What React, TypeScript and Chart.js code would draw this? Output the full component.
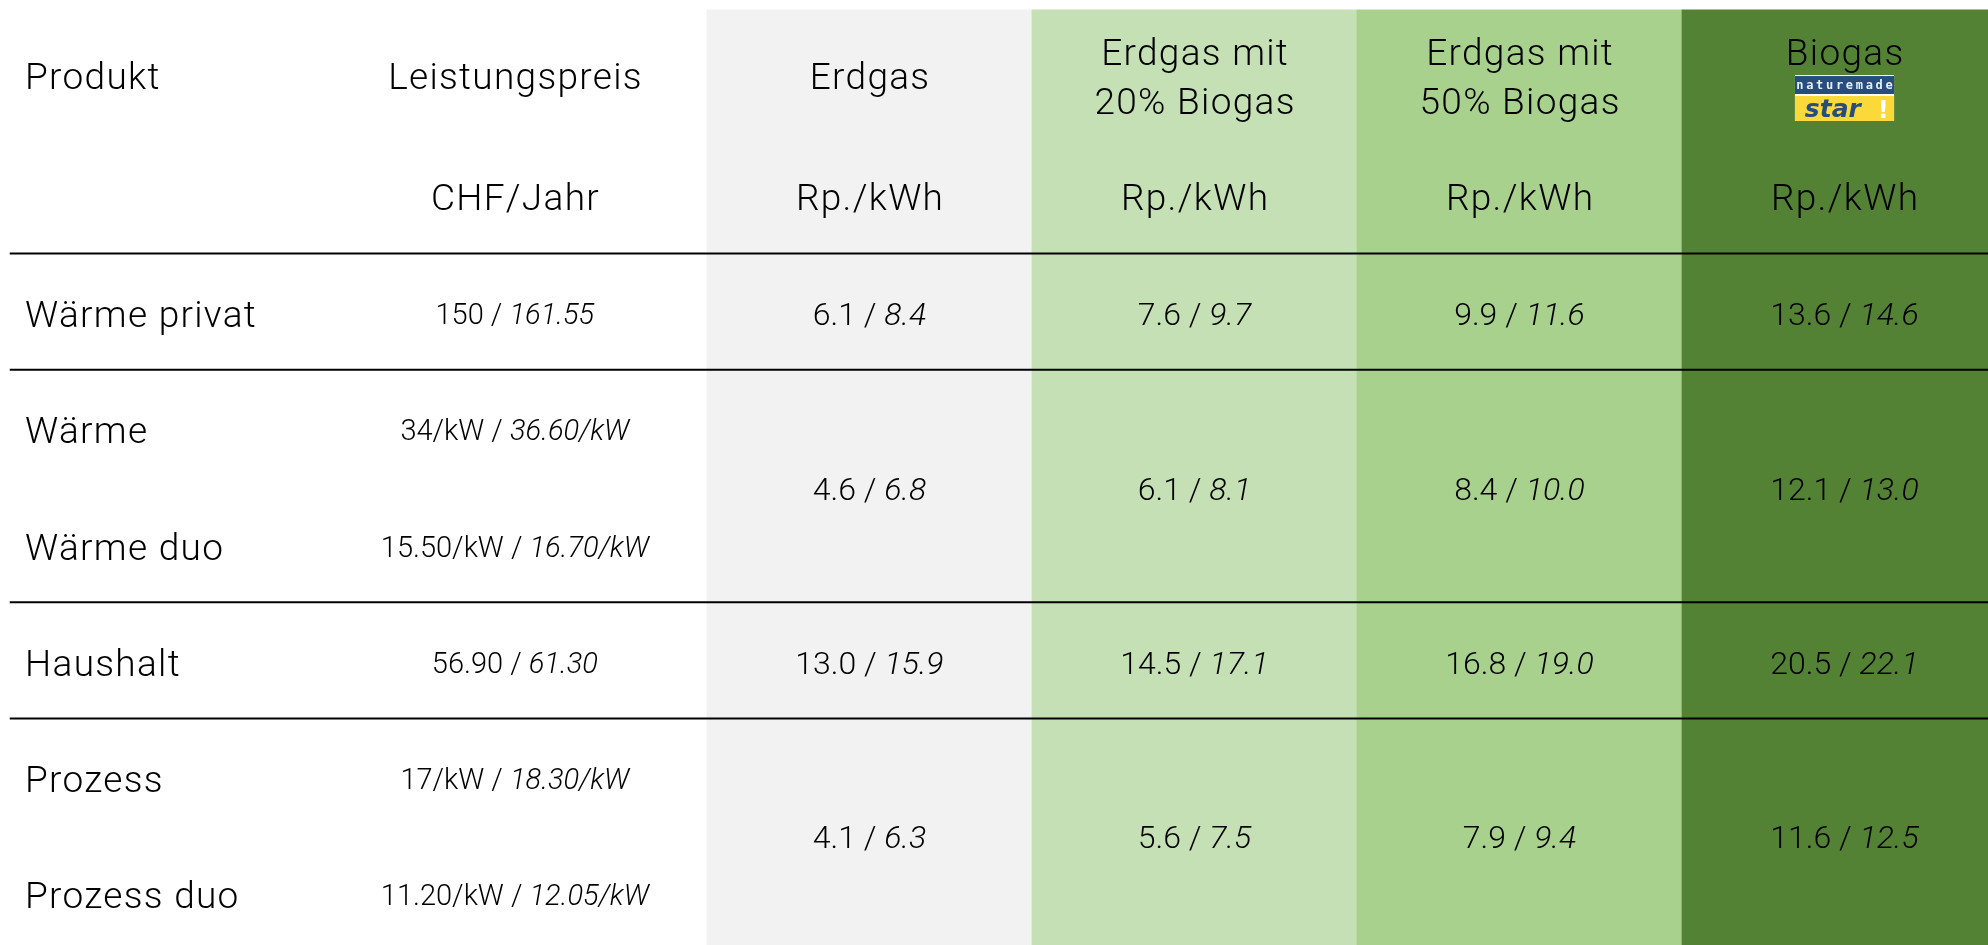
import React, { useEffect, useRef } from "react";
import { Chart, registerables } from "chart.js";
Chart.register(...registerables);

// ---------- data ----------
const headerProduct = "Produkt";
const headerFee = "Leistungspreis";
const feeUnit = "CHF/Jahr";
const gasNames: string[][] = [["Erdgas"], ["Erdgas mit", "20% Biogas"], ["Erdgas mit", "50% Biogas"], ["Biogas"]];
const gasUnit = "Rp./kWh";
const products = ["Wärme privat", "Wärme", "Wärme duo", "Haushalt", "Prozess", "Prozess duo"];
const feeBase = ["150", "34/kW", "15.50/kW", "56.90", "17/kW", "11.20/kW"];
const feeInclVat = ["161.55", "36.60/kW", "16.70/kW", "61.30", "18.30/kW", "12.05/kW"];
// product groups sharing one energy price
const groupFirstRow = [0, 1, 3, 4];
const groupRowCount = [1, 2, 1, 2];
const erdgasBase = [6.1, 4.6, 13.0, 4.1];
const erdgasIncl = [8.4, 6.8, 15.9, 6.3];
const bio20Base = [7.6, 6.1, 14.5, 5.6];
const bio20Incl = [9.7, 8.1, 17.1, 7.5];
const bio50Base = [9.9, 8.4, 16.8, 7.9];
const bio50Incl = [11.6, 10.0, 19.0, 9.4];
const biogasBase = [13.6, 12.1, 20.5, 11.6];
const biogasIncl = [14.6, 13.0, 22.1, 12.5];
const logoTop = "naturemade";
const logoBottom = "star";

// ---------- layout (x in column units, y in row units) ----------
const X_MIN = -0.175;
const X_MAX = 5.9415;
const Y_MIN = -2.1806;
const Y_MAX = 5.9484;
const TABLE_TOP = -2.095;
const TABLE_BOTTOM = 6.2;
const RULE_START = -0.145;
const LABEL_X = -0.098;
const FEE_X = 1.409;
const FIRST_PRICE_COL = 2;
const TEXT_DY = 0.02;
const HEADER_ONE_LINE_Y = -1.525;
const HEADER_TWO_LINE_Y = [-1.732, -1.313];
const UNIT_Y = -0.484;
const LOGO = { top: -1.535, mid: -1.372, mid2: -1.355, bottom: -1.14, width: 0.305 };
const colColors = ["#f2f2f2", "#c5e0b4", "#a9d18e", "#548235"];
const HEADER_FONT = 37;
const HEADER_SPACING = 1.3;
const FEE_FONT = 29;
const PRICE_FONT = 32;
const FAMILY = "Roboto, 'Liberation Sans', sans-serif";

const priceBase = [erdgasBase, bio20Base, bio50Base, biogasBase];
const priceIncl = [erdgasIncl, bio20Incl, bio50Incl, biogasIncl];

function drawLabel(ctx: CanvasRenderingContext2D, text: string, x: number, cy: number, size: number, align: CanvasTextAlign = "center") {
  ctx.font = `300 ${size}px ${FAMILY}`;
  (ctx as any).letterSpacing = `${HEADER_SPACING}px`;
  ctx.textAlign = "left";
  ctx.textBaseline = "alphabetic";
  const w = ctx.measureText(text).width - HEADER_SPACING;
  const left = align === "center" ? x - w / 2 : x;
  ctx.fillText(text, left, cy + size * 0.355);
  (ctx as any).letterSpacing = "0px";
}

function drawPair(ctx: CanvasRenderingContext2D, base: string, incl: string, cx: number, cy: number, size: number) {
  const normal = `300 ${size}px ${FAMILY}`;
  const italic = `italic 300 ${size}px ${FAMILY}`;
  const a = base + " / ";
  (ctx as any).letterSpacing = "0px";
  ctx.font = normal;
  const wa = ctx.measureText(a).width;
  ctx.font = italic;
  const wb = ctx.measureText(incl).width;
  const left = cx - (wa + wb) / 2;
  const baseline = cy + size * 0.355;
  ctx.textAlign = "left";
  ctx.textBaseline = "alphabetic";
  ctx.font = normal;
  ctx.fillText(a, left, baseline);
  ctx.font = italic;
  ctx.fillText(incl, left + wa, baseline);
}

const tablePlugin = {
  id: "tableText",
  afterDatasetsDraw(chart: any) {
    const ctx: CanvasRenderingContext2D = chart.ctx;
    const xs = chart.scales.x;
    const ys = chart.scales.y;
    const px = (v: number) => xs.getPixelForValue(v);
    const py = (v: number) => ys.getPixelForValue(v);
    ctx.save();
    ctx.fillStyle = "#000";
    // header
    drawLabel(ctx, headerProduct, px(LABEL_X), py(HEADER_ONE_LINE_Y), HEADER_FONT, "left");
    drawLabel(ctx, headerFee, px(FEE_X), py(HEADER_ONE_LINE_Y), HEADER_FONT);
    drawLabel(ctx, feeUnit, px(FEE_X), py(UNIT_Y), HEADER_FONT);
    gasNames.forEach((lines, i) => {
      const cx = px(FIRST_PRICE_COL + i + 0.5);
      if (lines.length === 1 && i < gasNames.length - 1) {
        drawLabel(ctx, lines[0], cx, py(HEADER_ONE_LINE_Y), HEADER_FONT);
      } else {
        lines.forEach((l, j) => drawLabel(ctx, l, cx, py(HEADER_TWO_LINE_Y[j]), HEADER_FONT));
      }
      drawLabel(ctx, gasUnit, cx, py(UNIT_Y), HEADER_FONT);
    });
    // logo under Biogas
    {
      const cx = px(FIRST_PRICE_COL + gasNames.length - 0.5);
      const w = px(LOGO.width) - px(0);
      const l = cx - w / 2;
      const t = py(LOGO.top);
      const m = py(LOGO.mid);
      const m2 = py(LOGO.mid2);
      const b = py(LOGO.bottom);
      ctx.fillStyle = "#ffffff";
      ctx.fillRect(l, t, w, b - t);
      ctx.fillStyle = "#264d7d";
      ctx.fillRect(l, t + 1, w, m - t - 1);
      ctx.fillStyle = "#fbd93a";
      ctx.fillRect(l, m2, w, b - m2);
      ctx.fillStyle = "#e8eef6";
      ctx.font = `bold ${Math.round((m - t) * 0.62)}px 'DejaVu Sans Mono', monospace`;
      ctx.textAlign = "center";
      ctx.textBaseline = "middle";
      const n = logoTop.length;
      for (let k = 0; k < n; k++) {
        ctx.fillText(logoTop[k], l + (w * (k + 0.5)) / n, (t + m) / 2 + 1);
      }
      ctx.fillStyle = "#264d7d";
      ctx.font = `italic bold ${Math.round((b - m2) * 1.0)}px 'DejaVu Sans', sans-serif`;
      ctx.textAlign = "left";
      ctx.textBaseline = "alphabetic";
      ctx.fillText(logoBottom, l + w * 0.1, b - 4);
      ctx.fillStyle = "#ffffff";
      ctx.font = `bold ${Math.round((b - m2) * 0.95)}px 'DejaVu Sans', sans-serif`;
      ctx.textAlign = "center";
      ctx.fillText("!", l + w * 0.89, b - 3);
    }
    ctx.fillStyle = "#000";
    // product rows
    products.forEach((p, r) => {
      const cy = py(r + 0.5 + TEXT_DY);
      drawLabel(ctx, p, px(LABEL_X), cy, HEADER_FONT, "left");
      drawPair(ctx, feeBase[r], feeInclVat[r], px(FEE_X), cy, FEE_FONT);
    });
    // energy prices
    groupFirstRow.forEach((r0, g) => {
      const cy = py(r0 + groupRowCount[g] / 2 + TEXT_DY);
      priceBase.forEach((arr, c) => {
        const cx = px(FIRST_PRICE_COL + c + 0.5);
        drawPair(ctx, arr[g].toFixed(1), priceIncl[c][g].toFixed(1), cx, cy, PRICE_FONT);
      });
    });
    ctx.restore();
  },
};

export default function App() {
  const ref = useRef<HTMLCanvasElement>(null);
  useEffect(() => {
    if (!ref.current) return;
    const bars = gasNames.map((_, i) => ({ x: FIRST_PRICE_COL + i + 0.5, y: [TABLE_TOP, TABLE_BOTTOM] }));
    const rules = groupFirstRow.map((r) => ({
      type: "line" as const,
      data: [
        { x: RULE_START, y: r },
        { x: X_MAX, y: r },
      ],
      borderColor: "#000000",
      borderWidth: 2,
      pointRadius: 0,
      fill: false,
      order: 0,
    }));
    const chart = new Chart(ref.current, {
      type: "bar",
      data: {
        datasets: [
          {
            type: "bar",
            data: bars as any,
            backgroundColor: colColors,
            borderWidth: 0,
            barPercentage: 1,
            categoryPercentage: 1,
            order: 1,
          } as any,
          ...(rules as any[]),
        ],
      },
      options: {
        animation: false,
        responsive: true,
        maintainAspectRatio: false,
        devicePixelRatio: 1,
        events: [],
        layout: { padding: 0 },
        plugins: { legend: { display: false }, tooltip: { enabled: false } },
        scales: {
          x: {
            type: "linear",
            min: X_MIN,
            max: X_MAX,
            offset: false,
            display: false,
            afterBuildTicks: (s: any) => {
              s.ticks = [0, 1, 2, 3, 4, 5].map((v) => ({ value: v }));
            },
          },
          y: {
            type: "linear",
            min: Y_MIN,
            max: Y_MAX,
            reverse: true,
            display: false,
          },
        },
      },
      plugins: [tablePlugin],
    });
    return () => chart.destroy();
  }, []);
  return (
    <div style={{ position: "fixed", left: 0, top: 0, width: 1988, height: 945, background: "#fff" }}>
      <canvas ref={ref} />
    </div>
  );
}
